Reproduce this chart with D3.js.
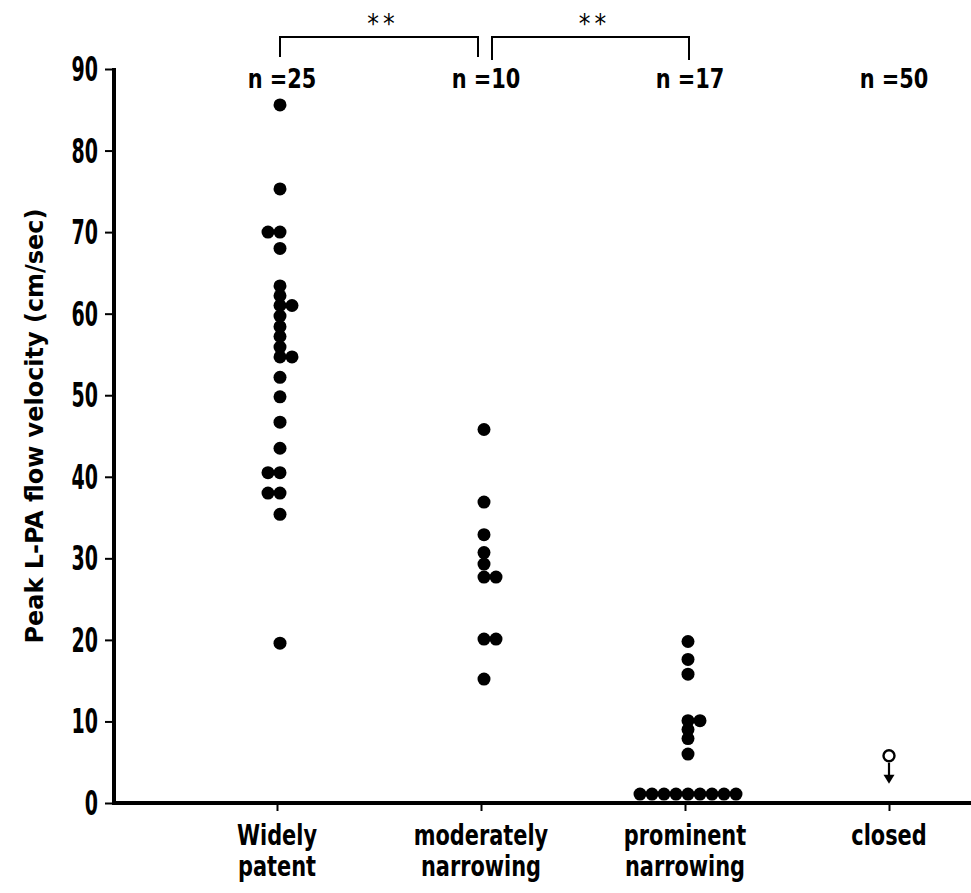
<!DOCTYPE html>
<html>
<head>
<meta charset="utf-8">
<script src="https://cdn.jsdelivr.net/npm/d3@7/dist/d3.min.js"></script>
<style>
  body { margin: 0; background: #fff; }
  text { font-family: "Liberation Sans Narrow", "DejaVu Sans Condensed", "Arial Narrow", sans-serif; font-weight: bold; fill: #000; }
</style>
</head>
<body>
<script>
// categories and group sizes
var categories = ["Widely patent", "moderately narrowing", "prominent narrowing", "closed"];
var catLines = [["Widely", "patent"], ["moderately", "narrowing"], ["prominent", "narrowing"], ["closed"]];
var nLabels = ["n =25", "n =10", "n =17", "n =50"];
var yTicks = [0, 10, 20, 30, 40, 50, 60, 70, 80, 90];

// peak velocities (cm/sec); side = which lane the dot sits in
var widelyVals = [85.6, 75.3, 70.0, 70.0, 68.0, 63.4, 62.2, 61.0, 61.0, 59.7, 58.4, 57.2, 55.9, 54.7, 54.7, 52.2, 49.8, 46.7, 43.5, 40.5, 40.5, 38.0, 38.0, 35.4, 19.6];
var widelySide = [0, 0, -1, 0, 0, 0, 0, 0, 1, 0, 0, 0, 0, 0, 1, 0, 0, 0, 0, -1, 0, -1, 0, 0, 0];
var moderateVals = [45.8, 36.9, 32.9, 30.7, 29.3, 27.7, 27.7, 20.1, 20.1, 15.2];
var moderateSide = [0, 0, 0, 0, 0, 0, 1, 0, 1, 0];
var prominentVals = [19.8, 17.6, 15.8, 10.1, 10.1, 9.0, 7.9, 6.0, 1.1, 1.1, 1.1, 1.1, 1.1, 1.1, 1.1, 1.1, 1.1];
var prominentSide = [0, 0, 0, 0, 1, 0, 0, 0, -4, -3, -2, -1, 0, 1, 2, 3, 4];
var closedVal = 5.8;

// significance brackets between groups
var brackets = [[0, 1], [1, 2]];

var W = 971, H = 893;
var svg = d3.select("body").append("svg").attr("width", W).attr("height", H);

var x = d3.scalePoint().domain(categories).range([277, 889]);
var y = d3.scaleLinear().domain([0, 90]).range([803, 69]);
var lane = 12;

// narrow text: the original lettering is a tall condensed face
function label(px, py, t, size, sx, anchor) {
  return svg.append("text")
    .attr("transform", "translate(" + px + "," + py + ") scale(" + sx + ",1)")
    .attr("text-anchor", anchor || "middle")
    .style("font-size", size + "px")
    .text(t);
}

// y axis
var yAxis = d3.axisLeft(y).tickValues(yTicks).tickSize(9).tickFormat("");
var gy = svg.append("g").attr("transform", "translate(114,0)").call(yAxis);
gy.select(".domain").remove();
gy.selectAll(".tick line").attr("stroke", "#000").attr("stroke-width", 2);
yTicks.forEach(function(v) {
  label(98, y(v) + 12, String(v), 33, 0.64, "end");
});
svg.append("line").attr("x1", 114).attr("x2", 114).attr("y1", y(90) - 1).attr("y2", y(0) + 2)
  .attr("stroke", "#000").attr("stroke-width", 4);

// x axis
var xAxis = d3.axisBottom(x).tickSize(8).tickFormat("");
var gx = svg.append("g").attr("transform", "translate(0," + y(0) + ")").call(xAxis);
gx.select(".domain").remove();
gx.selectAll(".tick line").attr("stroke", "#000").attr("stroke-width", 2);
svg.append("line").attr("x1", 112).attr("x2", W).attr("y1", y(0)).attr("y2", y(0))
  .attr("stroke", "#000").attr("stroke-width", 4);

// category labels
catLines.forEach(function(lines, i) {
  lines.forEach(function(t, j) {
    label(x(categories[i]), 845 + j * 31, t, 29, 0.8);
  });
});

// y title
svg.append("text").attr("transform", "translate(43,426) rotate(-90)")
  .attr("text-anchor", "middle").style("font-size", "25px")
  .attr("textLength", 435).attr("lengthAdjust", "spacingAndGlyphs")
  .text("Peak L-PA flow velocity (cm/sec)");

// n labels
nLabels.forEach(function(t, i) {
  label(x(categories[i]) + 5, 88, t, 27, 0.86);
});

// brackets with stars
brackets.forEach(function(b, i) {
  var xa = x(categories[b[0]]) + (i === 0 ? 3 : 11);
  var xb = x(categories[b[1]]) + (i === 0 ? -3 : 4);
  svg.append("path")
    .attr("d", "M" + xa + "," + (i === 0 ? 57 : 60) + "V37H" + xb + "V" + (i === 0 ? 57 : 60))
    .attr("fill", "none").attr("stroke", "#000").attr("stroke-width", 2);
  svg.append("text").attr("x", (xa + xb) / 2 + 4).attr("y", 33)
    .attr("text-anchor", "middle").style("font-size", "26px").style("font-weight", "normal")
    .style("letter-spacing", "4px").text("**");
});

// dots
var groups = [[widelyVals, widelySide], [moderateVals, moderateSide], [prominentVals, prominentSide]];
groups.forEach(function(g, i) {
  var pts = g[0].map(function(v, k) { return { v: v, s: g[1][k] }; });
  svg.append("g").selectAll("circle").data(pts).join("circle")
    .attr("cx", function(d) { return x(categories[i]) + 3 + d.s * lane; })
    .attr("cy", function(d) { return y(d.v); })
    .attr("r", 6.5)
    .attr("fill", "#000");
});

// closed group: open circle with downward arrow
var cx = x(categories[3]);
var cy = y(closedVal);
svg.append("circle").attr("cx", cx).attr("cy", cy).attr("r", 5.5)
  .attr("fill", "#fff").attr("stroke", "#000").attr("stroke-width", 2.4);
svg.append("line").attr("x1", cx).attr("x2", cx).attr("y1", cy + 7).attr("y2", cy + 22)
  .attr("stroke", "#000").attr("stroke-width", 2.2);
svg.append("path")
  .attr("d", "M" + (cx - 5.5) + "," + (cy + 19) + "L" + (cx + 5.5) + "," + (cy + 19) + "L" + cx + "," + (cy + 28) + "Z")
  .attr("fill", "#000");
</script>
</body>
</html>
